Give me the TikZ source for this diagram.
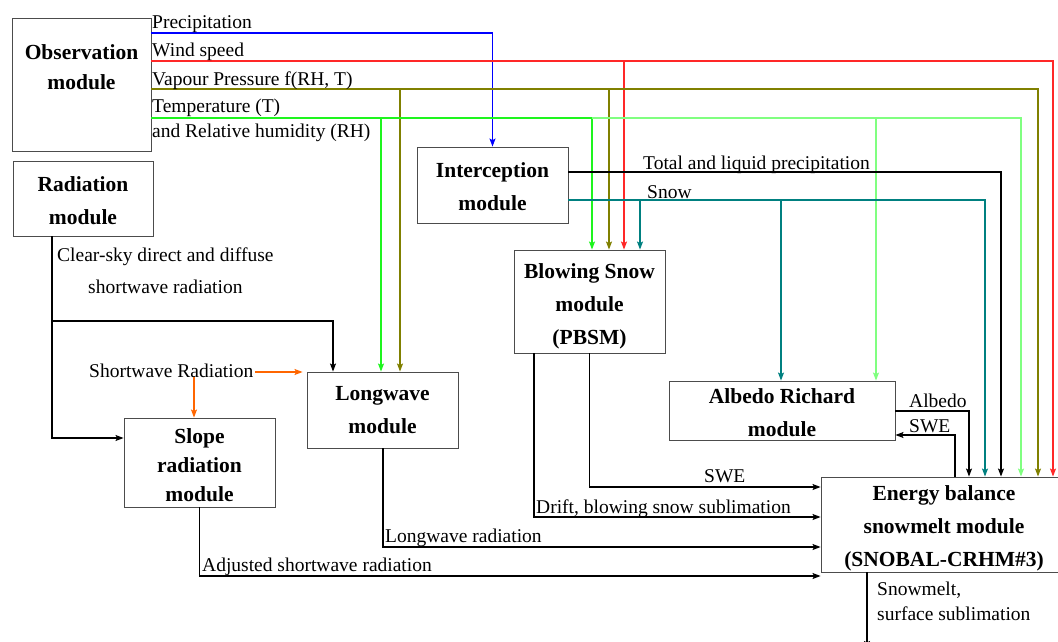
\documentclass[tikz,border=0pt]{standalone}
\usepackage{fontspec}
\setmainfont{Liberation Serif}
\usetikzlibrary{arrows.meta,positioning}

\definecolor{precipblue}{RGB}{0,0,255}
\definecolor{windred}{RGB}{255,40,40}
\definecolor{vapolive}{RGB}{128,128,0}
\definecolor{tempgreen}{RGB}{30,245,30}
\definecolor{templight}{RGB}{128,255,128}
\definecolor{snowteal}{RGB}{0,128,128}
\definecolor{sworange}{RGB}{255,102,0}

% Invisible strut that lowers the text block inside a module box.
\newcommand{\lift}[1]{\rule{0pt}{#1pt}}

\begin{document}
\begin{tikzpicture}[
  x=1pt,y=-1pt,
  line cap=butt,line join=miter,
  modbox/.style={draw=black!70,line width=0.9pt,align=center,inner sep=0pt,
    font=\fontsize{21.5}{33}\selectfont\bfseries},
  lab/.style={anchor=base west,inner sep=0pt,font=\fontsize{19.5}{22}\selectfont},
  link/.style={line width=1.1pt,-{Stealth[length=8pt,width=6pt,inset=1.5pt]}}
]
  \useasboundingbox (0,0) rectangle (1058,642);

  % Modules (boxes at their centres, sizes in px).
  \node[modbox,minimum width=139,minimum height=133] (obs) at (81.5,84.5) {};
  \node[modbox,draw=none,font=\fontsize{21.5}{30}\selectfont\bfseries]
    (obstext) at (81.5,67) {Observation\\module};
  \node[modbox,minimum width=140,minimum height=75] (rad) at (83,198.5)
    {\lift{20}Radiation\\module};
  \node[modbox,minimum width=151,minimum height=76] (intc) at (492.5,185)
    {\lift{18.5}Interception\\module};
  \node[modbox,minimum width=151,minimum height=103] (bs) at (589.5,301.5)
    {\lift{24}Blowing Snow\\module\\(PBSM)};
  \node[modbox,minimum width=151,minimum height=76] (lw) at (382.5,410)
    {Longwave\\module};
  \node[modbox,minimum width=151,minimum height=89,
    font=\fontsize{21.5}{29}\selectfont\bfseries] (slope) at (199.5,462.5)
    {\lift{20}Slope\\radiation\\module};
  \node[modbox,minimum width=226,minimum height=59] (alb) at (782,410.5)
    {\lift{19}Albedo Richard\\module};
  \node[modbox,minimum width=246,minimum height=95] (en) at (944,524.5)
    {\lift{22}Energy balance\\snowmelt module\\(SNOBAL-CRHM\#3)};
  \coordinate (melt) at (867,649);

  % Observation outputs.
  \draw[link,draw=precipblue] (obs.east |- 0,33) -| (intc.north);
  \draw[link,draw=windred] (obs.east |- 0,61) -| (en.north -| 1053,0);
  \draw[link,draw=windred] (624,61) -- (bs.north -| 624,0);
  \draw[link,draw=vapolive] (obs.east |- 0,89) -| (en.north -| 1038,0);
  \draw[link,draw=vapolive] (400,89) -- (lw.north -| 400,0);
  \draw[link,draw=vapolive] (609,89) -- (bs.north -| 609,0);
  \draw[link,draw=tempgreen] (obs.east |- 0,118) -| (bs.north -| 592,0);
  \draw[link,draw=tempgreen] (381,118) -- (lw.north -| 381,0);
  \draw[link,draw=templight] (592,118) -| (en.north -| 1021,0);
  \draw[link,draw=templight] (876,118) -- (alb.north -| 876,0);

  \node[lab] (lprec) at (152,29) {Precipitation};
  \node[lab] (lwind) at (152,57) {Wind speed};
  \node[lab] (lvap) at (152,85) {Vapour Pressure f(RH, T)};
  \node[lab] (ltemp) at (152,113) {Temperature (T)};
  \node[lab] (lrh) at (152,137) {and Relative humidity (RH)};

  % Interception outputs.
  \draw[link] (intc.east |- 0,172) -| (en.north -| 1001,0);
  \draw[link,draw=snowteal] (intc.east |- 0,200) -| (en.north -| 985,0);
  \draw[link,draw=snowteal] (640,200) -- (bs.north -| 640,0);
  \draw[link,draw=snowteal] (781,200) -- (alb.north -| 781,0);
  \node[lab] (ltot) at (643,169) {Total and liquid precipitation};
  \node[lab] (lsnow) at (647,198) {Snow};

  % Radiation chain.
  \draw[link] (rad.south -| 52,0) |- (slope.west |- 0,438);
  \draw[link] (52,321) -| (lw.north -| 333,0);
  \node[lab] (lclear) at (57,261) {Clear-sky direct and diffuse};
  \node[lab] (lshort) at (88,293) {shortwave radiation};
  \node[lab] (swr) at (89,377) {Shortwave Radiation};
  \draw[link,draw=sworange,shorten >=4pt] ([xshift=2pt]swr.east |- 0,372) -- (lw.west |- 0,372);
  \draw[link,draw=sworange] (swr.south -| 194,0) -- (slope.north -| 194,0);

  % Inputs to the energy balance module.
  \draw[link] (bs.south) |- (en.west |- 0,487);
  \draw[link] (bs.south -| 534,0) |- (en.west |- 0,517);
  \draw[link] (lw.south -| 383,0) |- (en.west |- 0,547);
  \draw[link] (slope.south) |- (en.west |- 0,576);
  \node[lab] (lswe) at (704,482) {SWE};
  \node[lab] (ldrift) at (536,513) {Drift, blowing snow sublimation};
  \node[lab] (llw) at (385,542) {Longwave radiation};
  \node[lab] (ladj) at (202,571) {Adjusted shortwave radiation};

  % Albedo exchange.
  \draw[link] (alb.east |- 0,411) -| (en.north -| 969,0);
  \draw[link] (en.north -| 955,0) |- (alb.east |- 0,435);
  \node[lab] (lalb) at (909,407) {Albedo};
  \node[lab] (lswe2) at (909,432) {SWE};

  % Output.
  \draw[link] (en.south -| melt) -- (melt);
  \node[lab] (lmelt) at (877,595) {Snowmelt,};
  \node[lab] (lsubl) at (877,620) {surface sublimation};
\end{tikzpicture}
\end{document}
